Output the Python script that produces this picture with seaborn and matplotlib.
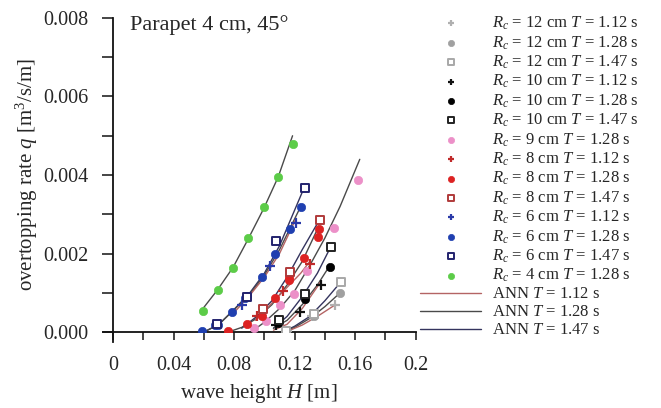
import numpy as np
import pandas as pd
import matplotlib
matplotlib.use('Agg')
import matplotlib.pyplot as plt
import seaborn as sns
from matplotlib.ticker import MultipleLocator, FuncFormatter, FormatStrFormatter

sns.set_style('ticks')
plt.rcParams['font.family'] = ['Liberation Serif', 'DejaVu Serif']
plt.rcParams['mathtext.fontset'] = 'custom'
plt.rcParams['mathtext.rm'] = 'Liberation Serif'
plt.rcParams['mathtext.it'] = 'Liberation Serif:italic'

# measured points (H [m], q [m3/s/m])
h_12_112 = [0.1150, 0.1316, 0.1466]
q_12_112 = [0.00003, 0.00040, 0.00070]
h_12_128 = [0.1144, 0.1327, 0.1499]
q_12_128 = [0.00004, 0.00042, 0.00099]
h_12_147 = [0.1146, 0.1327, 0.1508]
q_12_147 = [0.00004, 0.00047, 0.00127]
h_10_112 = [0.1078, 0.1234, 0.1376]
q_10_112 = [0.00017, 0.00051, 0.00121]
h_10_128 = [0.1091, 0.1267, 0.1433]
q_10_128 = [0.00023, 0.00085, 0.00167]
h_10_147 = [0.1095, 0.1267, 0.1442]
q_10_147 = [0.00032, 0.00096, 0.00216]
h_9_128 = [0.0930, 0.1013, 0.1102, 0.1195, 0.1283, 0.1460, 0.1620]
q_9_128 = [0.00011, 0.00028, 0.00070, 0.00096, 0.00155, 0.00265, 0.00387]
h_8_112 = [0.0952, 0.1124, 0.1298]
q_8_112 = [0.00042, 0.00104, 0.00174]
h_8_128 = [0.0757, 0.0885, 0.0985, 0.1073, 0.1161, 0.1165, 0.1261, 0.1353, 0.1360]
q_8_128 = [0.00002, 0.00021, 0.00042, 0.00086, 0.00133, 0.00140, 0.00188, 0.00243, 0.00262]
h_8_147 = [0.0991, 0.1172, 0.1367]
q_8_147 = [0.00059, 0.00152, 0.00285]
h_6_112 = [0.0852, 0.1036, 0.1206]
q_6_112 = [0.00070, 0.00169, 0.00277]
h_6_128 = [0.0587, 0.0676, 0.0691, 0.0786, 0.0874, 0.0885, 0.0985, 0.1069, 0.1168, 0.1243]
q_6_128 = [0.00002, 0.00017, 0.00019, 0.00051, 0.00086, 0.00093, 0.00141, 0.00199, 0.00262, 0.00319]
h_6_147 = [0.0687, 0.0885, 0.1078, 0.1265]
q_6_147 = [0.00020, 0.00090, 0.00233, 0.00367]
h_4_128 = [0.0594, 0.0691, 0.0793, 0.0890, 0.0996, 0.1091, 0.1186]
q_4_128 = [0.00055, 0.00108, 0.00163, 0.00240, 0.00318, 0.00394, 0.00480]

# ANN curves
ann_h_4_128 = [0.0594, 0.0691, 0.0793, 0.0890, 0.0996, 0.1091, 0.1186]
ann_q_4_128 = [0.00060, 0.00108, 0.00165, 0.00235, 0.00315, 0.00395, 0.00500]
ann_h_6_147 = [0.060, 0.070, 0.080, 0.090, 0.100, 0.110, 0.1265]
ann_q_6_147 = [0.0, 0.00020, 0.00058, 0.00098, 0.00150, 0.00220, 0.00370]
ann_h_6_128 = [0.060, 0.070, 0.080, 0.090, 0.100, 0.110, 0.124]
ann_q_6_128 = [0.0, 0.00020, 0.00057, 0.00095, 0.00145, 0.00210, 0.00320]
ann_h_6_112 = [0.080, 0.090, 0.100, 0.110, 0.121]
ann_q_6_112 = [0.00050, 0.00092, 0.00140, 0.00200, 0.00290]
ann_h_8_147 = [0.085, 0.095, 0.105, 0.115, 0.125, 0.137]
ann_q_8_147 = [0.00010, 0.00040, 0.00080, 0.00140, 0.00210, 0.00290]
ann_h_8_128 = [0.076, 0.085, 0.095, 0.105, 0.115, 0.125, 0.136]
ann_q_8_128 = [0.0, 0.00012, 0.00035, 0.00070, 0.00120, 0.00180, 0.00270]
ann_h_8_112 = [0.094, 0.104, 0.114, 0.124, 0.130]
ann_q_8_112 = [0.00030, 0.00070, 0.00110, 0.00150, 0.00180]
ann_h_9_128 = [0.091, 0.100, 0.110, 0.120, 0.130, 0.140, 0.150, 0.163]
ann_q_9_128 = [0.0, 0.00025, 0.00060, 0.00105, 0.00170, 0.00240, 0.00320, 0.00440]
ann_h_10_147 = [0.106, 0.115, 0.125, 0.135, 0.1442]
ann_q_10_147 = [0.00010, 0.00040, 0.00090, 0.00150, 0.00220]
ann_h_10_128 = [0.106, 0.115, 0.125, 0.135, 0.1433]
ann_q_10_128 = [0.00010, 0.00030, 0.00070, 0.00120, 0.00170]
ann_h_10_112 = [0.106, 0.115, 0.125, 0.1376]
ann_q_10_112 = [0.00005, 0.00020, 0.00060, 0.00130]
ann_h_12_147 = [0.112, 0.120, 0.130, 0.140, 0.151]
ann_q_12_147 = [0.0, 0.00015, 0.00040, 0.00080, 0.00130]
ann_h_12_128 = [0.112, 0.120, 0.130, 0.140, 0.150]
ann_q_12_128 = [0.0, 0.00012, 0.00035, 0.00065, 0.00100]
ann_h_12_112 = [0.114, 0.125, 0.135, 0.147]
ann_q_12_112 = [0.0, 0.00018, 0.00040, 0.00070]

c_ann = {'1.12': '#b46464', '1.28': '#4a4a4a', '1.47': '#34345e'}

series = [
    ('12', '1.12', h_12_112, q_12_112, '+', '#b0b0b0'),
    ('12', '1.28', h_12_128, q_12_128, 'o', '#a0a0a0'),
    ('12', '1.47', h_12_147, q_12_147, 's', '#a8a8a8'),
    ('10', '1.12', h_10_112, q_10_112, '+', '#111111'),
    ('10', '1.28', h_10_128, q_10_128, 'o', '#000000'),
    ('10', '1.47', h_10_147, q_10_147, 's', '#222222'),
    ('9', '1.28', h_9_128, q_9_128, 'o', '#ec90c8'),
    ('8', '1.12', h_8_112, q_8_112, '+', '#c02a2a'),
    ('8', '1.28', h_8_128, q_8_128, 'o', '#dd2222'),
    ('8', '1.47', h_8_147, q_8_147, 's', '#b03a3a'),
    ('6', '1.12', h_6_112, q_6_112, '+', '#2a3aa8'),
    ('6', '1.28', h_6_128, q_6_128, 'o', '#1f3fb0'),
    ('6', '1.47', h_6_147, q_6_147, 's', '#22226e'),
    ('4', '1.28', h_4_128, q_4_128, 'o', '#5ccc48'),
]

curves = [
    ('1.28', ann_h_4_128, ann_q_4_128),
    ('1.47', ann_h_6_147, ann_q_6_147),
    ('1.28', ann_h_6_128, ann_q_6_128),
    ('1.12', ann_h_6_112, ann_q_6_112),
    ('1.47', ann_h_8_147, ann_q_8_147),
    ('1.28', ann_h_8_128, ann_q_8_128),
    ('1.12', ann_h_8_112, ann_q_8_112),
    ('1.28', ann_h_9_128, ann_q_9_128),
    ('1.47', ann_h_10_147, ann_q_10_147),
    ('1.28', ann_h_10_128, ann_q_10_128),
    ('1.12', ann_h_10_112, ann_q_10_112),
    ('1.47', ann_h_12_147, ann_q_12_147),
    ('1.28', ann_h_12_128, ann_q_12_128),
    ('1.12', ann_h_12_112, ann_q_12_112),
]

fig = plt.figure(figsize=(6.61, 4.08), dpi=100)
ax = fig.add_axes([0.171, 0.186, 0.458, 0.770])

seen = set()
for t, hh, qq in curves:
    lab = None
    if t not in seen:
        lab = 'ANN $T$ = %s s' % t
        seen.add(t)
    sns.lineplot(x=hh, y=qq, sort=False, color=c_ann[t], lw=1.0, ax=ax, label=lab, legend=False)

for rc, t, hh, qq, m, c in series:
    lab = '$R_c$ = %s cm $T$ = %s s' % (rc, t)
    if m == 's':
        sns.scatterplot(x=hh, y=qq, marker='s', s=30, facecolor='white', edgecolor=c,
                        linewidth=1.4, ax=ax, label=lab, legend=False, zorder=3)
    elif m == '+':
        sns.scatterplot(x=hh, y=qq, marker='+', s=45, color=c, linewidth=1.6,
                        ax=ax, label=lab, legend=False, zorder=3)
    else:
        sns.scatterplot(x=hh, y=qq, marker='o', s=36, color=c, edgecolor=c,
                        linewidth=0.5, ax=ax, label=lab, legend=False, zorder=3)

ax.set_xlim(0, 0.2)
ax.set_ylim(0, 0.008)
ax.xaxis.set_major_locator(MultipleLocator(0.04))
ax.xaxis.set_minor_locator(MultipleLocator(0.02))
ax.xaxis.set_major_formatter(FuncFormatter(lambda v, p: '%g' % round(v, 3)))
ax.yaxis.set_major_locator(MultipleLocator(0.002))
ax.yaxis.set_minor_locator(MultipleLocator(0.001))
ax.yaxis.set_major_formatter(FormatStrFormatter('%.3f'))
ax.tick_params(axis='x', which='both', direction='out', length=6, width=1.2, labelsize=14.5, pad=11)
ax.tick_params(axis='y', which='both', direction='out', length=8, width=1.2, labelsize=14.5, pad=10)
sns.despine(ax=ax)
for s in ['left', 'bottom']:
    ax.spines[s].set_linewidth(1.3)
    ax.spines[s].set_color('#111111')
ax.spines['bottom'].set_bounds(-0.0066, 0.2)
ax.spines['left'].set_bounds(-0.00025, 0.008)

ax.set_xlabel('wave height $H$ [m]', fontsize=15, labelpad=5)
ax.xaxis.label.set_x(0.483)
ax.set_ylabel('overtopping rate $q$ [m$^3$/s/m]', fontsize=15, labelpad=2)
ax.text(0.055, 1.01, 'Parapet 4 cm, 45°', transform=ax.transAxes, fontsize=16, va='top', ha='left')

handles, labels = ax.get_legend_handles_labels()
order = ['$R_c$ = %s cm $T$ = %s s' % (s[0], s[1]) for s in series] + \
        ['ANN $T$ = %s s' % t for t in ['1.12', '1.28', '1.47']]
lookup = dict(zip(labels, handles))
fig.legend([lookup[l] for l in order], order, loc='upper left',
           bbox_to_anchor=(0.625, 0.98), frameon=False, fontsize=12,
           handlelength=3.7, handletextpad=0.65, labelspacing=0.12,
           markerscale=0.75, borderaxespad=0)

fig.savefig('out.png', dpi=100)
